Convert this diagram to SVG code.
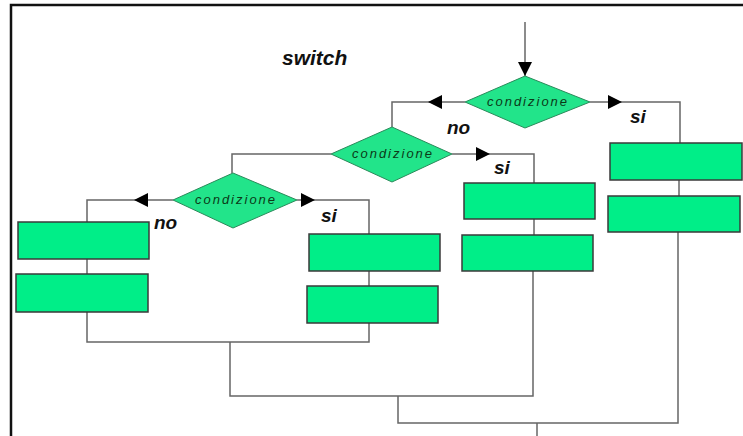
<svg xmlns="http://www.w3.org/2000/svg" width="743" height="436" viewBox="0 0 743 436">
<defs>
<style>
.frame{fill:none;stroke:#111;stroke-width:2.5}
.line{fill:none;stroke:#666;stroke-width:1.5}
.box{fill:#00ee88;stroke:#3a3a3a;stroke-width:1.5}
.dia{fill:#22e48a;stroke:#2a8a5a;stroke-width:1}
.cond{font-family:"Liberation Sans",Arial,sans-serif;font-style:italic;font-size:13px;letter-spacing:2px;fill:#0b3a18;text-anchor:middle}
.lbl{font-family:"Liberation Sans",Arial,sans-serif;font-style:italic;font-weight:bold;font-size:19px;fill:#111}
.title{font-family:"Liberation Sans",Arial,sans-serif;font-style:italic;font-weight:bold;font-size:21px;fill:#111}
</style>
<marker id="ar" viewBox="0 0 10 10" refX="10" refY="5" markerWidth="14" markerHeight="14" markerUnits="userSpaceOnUse" orient="auto">
<path d="M0,0 L10,5 L0,10 z" fill="#000"/>
</marker>
</defs>
<rect width="743" height="436" fill="#fff"/>
<path class="frame" d="M11,436 V5 H743"/>
<text class="title" x="282" y="65">switch</text>
<g id="connectors">
<path class="line" d="M525,22 V76" marker-end="url(#ar)"/>
<path class="line" d="M465,102 H428" marker-end="url(#ar)"/>
<path class="line" d="M428,102 H392 V127"/>
<path class="line" d="M590,102 H622" marker-end="url(#ar)"/>
<path class="line" d="M622,102 H680 V143"/>
<path class="line" d="M331,154 H232 V173"/>
<path class="line" d="M452,154 H490" marker-end="url(#ar)"/>
<path class="line" d="M490,154 H534 V183"/>
<path class="line" d="M173,200 H134" marker-end="url(#ar)"/>
<path class="line" d="M134,200 H87 V222"/>
<path class="line" d="M297,200 H315" marker-end="url(#ar)"/>
<path class="line" d="M315,200 H369 V234"/>
<path class="line" d="M87,259 V274"/>
<path class="line" d="M369,271 V286"/>
<path class="line" d="M534,219 V235"/>
<path class="line" d="M679,180 V196"/>
<path class="line" d="M87,312 V342 H369 V323"/>
<path class="line" d="M230,342 V396 H533 V271"/>
<path class="line" d="M398,396 V423 H678 V232"/>
<path class="line" d="M537,423 V436"/>
</g>
<g id="cond1">
<polygon class="dia" points="465,102 525,76 590,102 525,128"/>
<text class="cond" x="528" y="106">condizione</text>
</g>
<g id="cond2">
<polygon class="dia" points="331,154 392,127 452,154 392,182"/>
<text class="cond" x="393" y="158">condizione</text>
</g>
<g id="cond3">
<polygon class="dia" points="173,200 233,173 297,200 233,228"/>
<text class="cond" x="236" y="204">condizione</text>
</g>
<g id="labels">
<text class="lbl" x="447" y="134">no</text>
<text class="lbl" x="630" y="123">si</text>
<text class="lbl" x="494" y="174">si</text>
<text class="lbl" x="154" y="229">no</text>
<text class="lbl" x="321" y="222">si</text>
</g>
<g id="box1"><rect class="box" x="18" y="222" width="131" height="37"/></g>
<g id="box2"><rect class="box" x="16" y="274" width="132" height="38"/></g>
<g id="box3"><rect class="box" x="309" y="234" width="131" height="37"/></g>
<g id="box4"><rect class="box" x="307" y="286" width="131" height="37"/></g>
<g id="box5"><rect class="box" x="464" y="183" width="131" height="36"/></g>
<g id="box6"><rect class="box" x="462" y="235" width="131" height="36"/></g>
<g id="box7"><rect class="box" x="610" y="143" width="132" height="37"/></g>
<g id="box8"><rect class="box" x="608" y="196" width="132" height="36"/></g>
</svg>
